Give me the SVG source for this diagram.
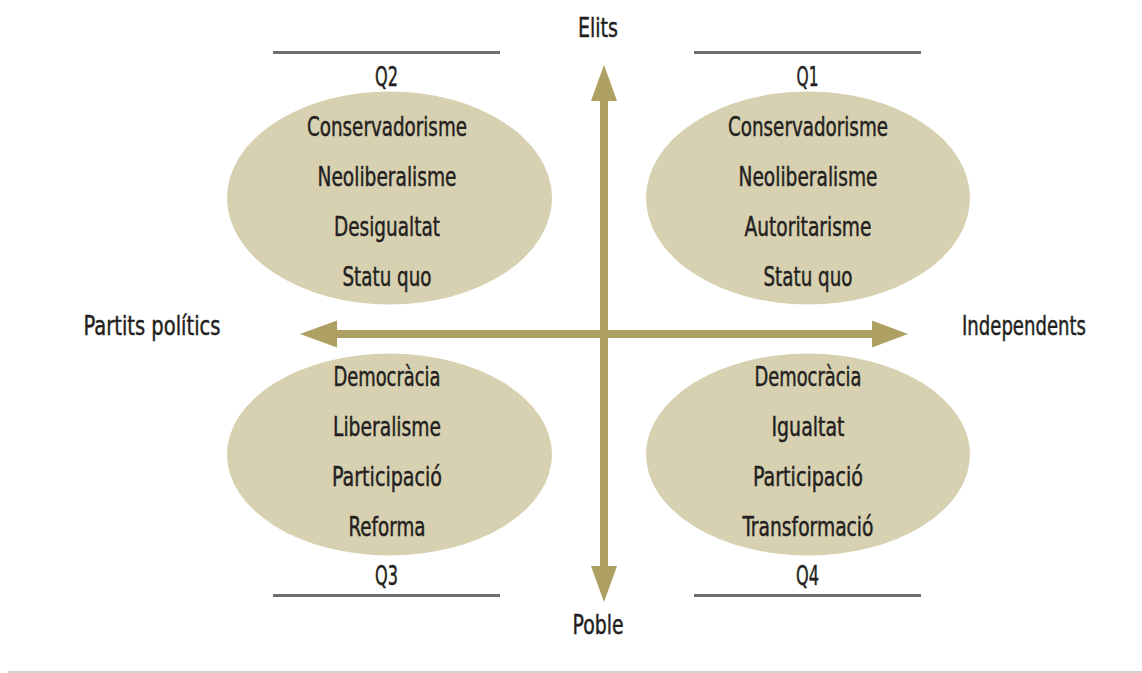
<svg xmlns="http://www.w3.org/2000/svg" width="1142" height="673" viewBox="0 0 1142 673">
  <style>
    text { font-family: "Liberation Sans Narrow", "DejaVu Sans Condensed", "DejaVu Sans", sans-serif; font-stretch: condensed; font-size: 26px; fill: #231f20; stroke: #231f20; stroke-width: 0.45px; text-anchor: middle; }
    .blob { fill: #d7d1b1; }
    .rule { stroke: #6e6e6e; stroke-width: 3; }
    .axis { fill: #ada062; }
    .sep { stroke: #c2c2c2; stroke-width: 1.5; }
  </style>
  <rect width="1142" height="673" fill="#ffffff"/>
  <line class="sep" x1="8" y1="672" x2="1142" y2="672"/>

  <g id="connectors">
    <rect class="axis" x="600" y="99" width="8" height="468"/>
    <polygon class="axis" points="604,65 617,101 591,101"/>
    <polygon class="axis" points="604,602 617,566 591,566"/>
    <rect class="axis" x="336" y="330" width="537" height="8"/>
    <polygon class="axis" points="300,334 337,320.5 337,347.5"/>
    <polygon class="axis" points="908,334 872,320.5 872,347.5"/>
  </g>

  <g id="label-elits"><text x="598" y="37" textLength="40" lengthAdjust="spacingAndGlyphs">Elits</text></g>
  <g id="label-poble"><text x="598" y="634" textLength="51" lengthAdjust="spacingAndGlyphs">Poble</text></g>
  <g id="label-partits"><text x="152" y="335" textLength="137" lengthAdjust="spacingAndGlyphs">Partits polítics</text></g>
  <g id="label-independents"><text x="1024" y="335" textLength="124" lengthAdjust="spacingAndGlyphs">Independents</text></g>

  <g id="q2">
    <line class="rule" x1="273" y1="52.5" x2="500" y2="52.5"/>
    <text x="386.5" y="86" textLength="23" lengthAdjust="spacingAndGlyphs">Q2</text>
    <ellipse class="blob" cx="389.5" cy="198" rx="162.5" ry="106.5"/>
    <text x="387" y="136" textLength="160" lengthAdjust="spacingAndGlyphs">Conservadorisme</text>
    <text x="387" y="186" textLength="139" lengthAdjust="spacingAndGlyphs">Neoliberalisme</text>
    <text x="387" y="236" textLength="106" lengthAdjust="spacingAndGlyphs">Desigualtat</text>
    <text x="387" y="286" textLength="89" lengthAdjust="spacingAndGlyphs">Statu quo</text>
  </g>

  <g id="q1">
    <line class="rule" x1="694" y1="52.5" x2="921" y2="52.5"/>
    <text x="807.5" y="86" textLength="22" lengthAdjust="spacingAndGlyphs">Q1</text>
    <ellipse class="blob" cx="808" cy="198" rx="162" ry="106.5"/>
    <text x="808" y="136" textLength="160" lengthAdjust="spacingAndGlyphs">Conservadorisme</text>
    <text x="808" y="186" textLength="139" lengthAdjust="spacingAndGlyphs">Neoliberalisme</text>
    <text x="808" y="236" textLength="127" lengthAdjust="spacingAndGlyphs">Autoritarisme</text>
    <text x="808" y="286" textLength="89" lengthAdjust="spacingAndGlyphs">Statu quo</text>
  </g>

  <g id="q3">
    <ellipse class="blob" cx="389.5" cy="454.5" rx="162.5" ry="101"/>
    <text x="387" y="386" textLength="107" lengthAdjust="spacingAndGlyphs">Democràcia</text>
    <text x="387" y="436" textLength="108" lengthAdjust="spacingAndGlyphs">Liberalisme</text>
    <text x="387" y="486" textLength="110" lengthAdjust="spacingAndGlyphs">Participació</text>
    <text x="387" y="536" textLength="77" lengthAdjust="spacingAndGlyphs">Reforma</text>
    <text x="386.5" y="584.5" textLength="23" lengthAdjust="spacingAndGlyphs">Q3</text>
    <line class="rule" x1="273" y1="595.5" x2="500" y2="595.5"/>
  </g>

  <g id="q4">
    <ellipse class="blob" cx="808" cy="454.5" rx="162" ry="101"/>
    <text x="808" y="386" textLength="107" lengthAdjust="spacingAndGlyphs">Democràcia</text>
    <text x="808" y="436" textLength="73" lengthAdjust="spacingAndGlyphs">Igualtat</text>
    <text x="808" y="486" textLength="110" lengthAdjust="spacingAndGlyphs">Participació</text>
    <text x="808" y="536" textLength="131" lengthAdjust="spacingAndGlyphs">Transformació</text>
    <text x="807.5" y="584.5" textLength="23" lengthAdjust="spacingAndGlyphs">Q4</text>
    <line class="rule" x1="694" y1="595.5" x2="921" y2="595.5"/>
  </g>
</svg>
